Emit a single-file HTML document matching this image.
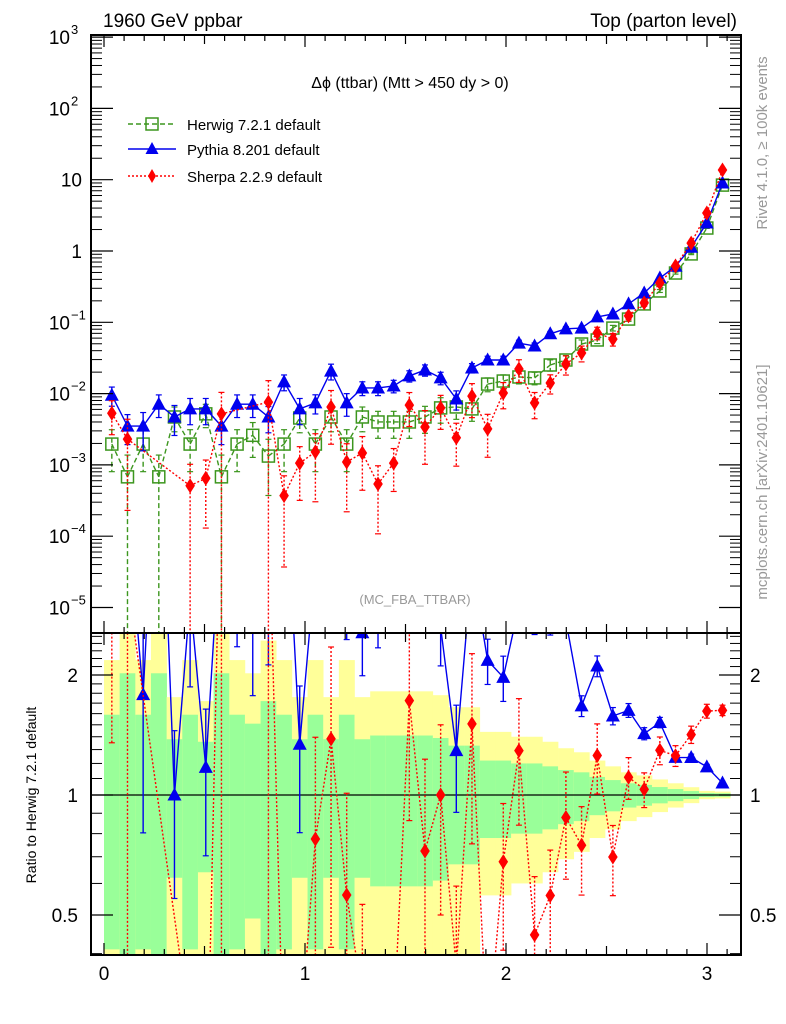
<!DOCTYPE html>
<html><head><meta charset="utf-8">
<style>
html,body{margin:0;padding:0;background:#fff;width:786px;height:1024px;overflow:hidden;}
svg{display:block;font-family:"Liberation Sans",sans-serif;}
</style></head>
<body>
<svg id="chart" width="786" height="1024" viewBox="0 0 786 1024" xmlns="http://www.w3.org/2000/svg">
<defs>
<clipPath id="mainClip"><rect x="91" y="35" width="650" height="598"/></clipPath>
<clipPath id="ratioClip"><rect x="91" y="633" width="650" height="322"/></clipPath>
</defs>
<g id="bands" clip-path="url(#ratioClip)"></g>
<g id="ratioMarks" clip-path="url(#ratioClip)"></g>
<g id="mainMarks" clip-path="url(#mainClip)"></g>
<g id="axes"></g>
<text x="103" y="27" font-size="19">1960 GeV ppbar</text>
<text x="737" y="27" font-size="19" text-anchor="end">Top (parton level)</text>
<text x="410" y="88" font-size="16" text-anchor="middle">Δϕ (ttbar) (Mtt &gt; 450 dy &gt; 0)</text>
<g>
 <g>
  <line x1="128" y1="124" x2="176" y2="124" stroke="#3c961e" stroke-width="1.5" stroke-dasharray="5,3"/>
  <rect x="146" y="118" width="12" height="12" fill="none" stroke="#3c961e" stroke-width="1.5"/>
  <text x="187" y="130" font-size="15">Herwig 7.2.1 default</text>
 </g>
 <g>
  <line x1="128" y1="149" x2="176" y2="149" stroke="#0000ee" stroke-width="1.5"/>
  <polygon points="152,142 158.5,154 145.5,154" fill="#0000ee"/>
  <text x="187" y="155" font-size="15">Pythia 8.201 default</text>
 </g>
 <g>
  <line x1="128" y1="176" x2="176" y2="176" stroke="#ff0000" stroke-width="1.5" stroke-dasharray="2,2"/>
  <polygon points="152,169 156,176 152,183 148,176" fill="#ff0000"/>
  <text x="187" y="182" font-size="15">Sherpa 2.2.9 default</text>
 </g>
</g>
<text x="415" y="604" font-size="13" fill="#999" text-anchor="middle">(MC_FBA_TTBAR)</text>
<text transform="translate(767,143) rotate(-90)" font-size="15" fill="#999" text-anchor="middle">Rivet 4.1.0, ≥ 100k events</text>
<text transform="translate(767,482) rotate(-90)" font-size="15" fill="#999" text-anchor="middle">mcplots.cern.ch [arXiv:2401.10621]</text>
<text transform="translate(36,795) rotate(-90)" font-size="14" text-anchor="middle">Ratio to Herwig 7.2.1 default</text>
</svg>
<script>
const binWidth = 0.0779;
const herwig = [1.96e-3,6.8e-4,1.96e-3,6.8e-4,4.7e-3,1.96e-3,5.2e-3,6.8e-4,1.96e-3,2.6e-3,1.33e-3,1.96e-3,4.55e-3,1.96e-3,4.7e-3,1.96e-3,4.7e-3,4.0e-3,4.0e-3,4.0e-3,4.7e-3,6.3e-3,6.5e-3,6.1e-3,1.36e-2,1.5e-2,1.71e-2,1.66e-2,2.52e-2,2.96e-2,4.96e-2,5.65e-2,8.3e-2,0.111,0.181,0.275,0.491,0.91,2.1,8.4];
const herwigErr = [.59,1.02,.59,1.02,.38,.59,.36,1.02,.59,.51,.72,.59,.38,.59,.38,.59,.38,.41,.41,.41,.41,.39,.33,.33,.22,.22,.2,.2,.18,.155,.14,.11,.09,.07,.06,.047,.035,.023,.012,.01];
const pythia = [9.5e-3,3.5e-3,3.5e-3,7.1e-3,4.7e-3,6.1e-3,6.1e-3,3.5e-3,7.1e-3,7.1e-3,4.7e-3,1.46e-2,6.1e-3,7.4e-3,2.07e-2,7.4e-3,1.2e-2,1.2e-2,1.28e-2,1.77e-2,2.14e-2,1.66e-2,8.4e-3,2.29e-2,2.96e-2,2.96e-2,5.1e-2,4.66e-2,6.9e-2,8.1e-2,8.3e-2,0.119,0.131,0.181,0.258,0.418,0.61,1.13,2.47,9.0];
const pythiaErr = [.3,.45,.55,.35,.45,.4,.4,.45,.35,.35,.4,.25,.4,.3,.25,.35,.22,.22,.2,.18,.18,.2,.3,.15,.13,.13,.1,.1,.08,.07,.06,.06,.05,.04,.035,.03,.025,.02,.015,.01];
const sherpa = [5.3e-3,2.3e-3,null,null,null,5.1e-4,6.5e-4,5.2e-3,null,null,7.6e-3,3.7e-4,1.06e-3,1.52e-3,6.5e-3,1.1e-3,1.47e-3,5.4e-4,1.06e-3,6.9e-3,3.4e-3,6.3e-3,2.4e-3,9.2e-3,3.2e-3,1.02e-2,2.21e-2,7.4e-3,1.41e-2,2.6e-2,3.71e-2,7.1e-2,5.8e-2,0.123,0.187,0.356,0.616,1.29,3.41,13.7];
const sherpaErr = [.5,.9,0,0,0,1.0,.8,1.0,0,0,1.0,.9,.7,.8,.7,.8,.7,.8,.6,.5,.7,.5,.6,.5,.6,.4,.35,.4,.3,.3,.25,.2,.2,.12,.1,.08,.06,.05,.04,.03];
const xTicks = [0,1,2,3];
const mainTickExps = [3,2,1,0,-1,-2,-3,-4,-5];
const ratioTicks = [0.5,1,2];

const NS = "http://www.w3.org/2000/svg";
const X = v => 104 + 201*v;
const YM = v => 251 - 71.3*Math.log10(v);
const YR = r => 795 - 120*Math.log2(r);
const YMAX = 1000;
function mk(parent, tag, attrs){const e=document.createElementNS(NS,tag);for(const k in attrs)e.setAttribute(k,attrs[k]);parent.appendChild(e);return e;}
const center = i => (i+0.5)*binWidth;

const bands = document.getElementById('bands');
herwigErr.forEach((e,i)=>{
  const x0=X(i*binWidth), x1=X((i+1)*binWidth);
  const yTop=YR(1+2*e), yBot=(1-2*e)>0?Math.min(YR(1-2*e),960):960;
  const y = mk(bands,'rect',{x:x0,y:yTop,width:x1-x0+0.3,height:yBot-yTop,fill:'#ffff99'});
  
  
  const gTop=YR(1+e), gBot=(1-e)>0?Math.min(YR(1-e),960):960;
  const g = mk(bands,'rect',{x:x0,y:gTop,width:x1-x0+0.3,height:gBot-gTop,fill:'#99ff99'});
  
  
});
const one = mk(document.getElementById('ratioMarks'),'line',{x1:91,x2:741,y1:YR(1),y2:YR(1),stroke:'#000','stroke-width':1.2});



function marker(g, type, x, y, color){
  let m;
  if(type==='square') m=mk(g,'rect',{x:x-6,y:y-6,width:12,height:12,fill:'none',stroke:color,'stroke-width':1.5});
  else if(type==='tri') m=mk(g,'polygon',{points:`${x},${y-7.5} ${x+7},${y+5.5} ${x-7},${y+5.5}`,fill:color});
  else m=mk(g,'polygon',{points:`${x},${y-7.5} ${x+4.8},${y} ${x},${y+7.5} ${x-4.8},${y}`,fill:color});
  return m;
}

function clipSeg(p,q){
  let [x1,y1]=p,[x2,y2]=q;
  if(y1>YMAX && y2>YMAX) return null;
  if(y1>YMAX){x1=x1+(x2-x1)*(YMAX-y1)/(y2-y1);y1=YMAX;}
  if(y2>YMAX){x2=x1+(x2-x1)*(YMAX-y1)/(y2-y1);y2=YMAX;}
  return `M${x1},${y1}L${x2},${y2}`;
}

function drawSeries(parent, vals, errs, denom, yf, color, dash, type, name){
  const g = mk(parent,'g',{});
  
  
  const pts=[];
  vals.forEach((v,i)=>{
    if(v===null) return;
    const val = denom? v/denom[i] : v;
    pts.push([X(center(i)), yf(val)]);
  });
  let d='';
  for(let j=0;j<pts.length-1;j++){const s=clipSeg(pts[j],pts[j+1]); if(s) d+=s;}
  if(d) mk(g,'path',{d:d,fill:'none',stroke:color,'stroke-width':1.4,'stroke-dasharray':dash||'none'});
  vals.forEach((v,i)=>{
    if(v===null) return;
    const val = denom? v/denom[i] : v;
    const x=X(center(i)), y=yf(val);
    if(y>YMAX) return;
    const hi=yf(val*(1+errs[i]));
    let lo=(1-errs[i])>0?yf(val*(1-errs[i])):YMAX;
    const capLo = lo<YMAX;
    lo=Math.min(lo,YMAX);
    mk(g,'line',{x1:x,x2:x,y1:hi,y2:lo,stroke:color,'stroke-width':1.4,'stroke-dasharray':dash||'none'});
    mk(g,'line',{x1:x-3,x2:x+3,y1:hi,y2:hi,stroke:color,'stroke-width':1.2});
    if(capLo) mk(g,'line',{x1:x-3,x2:x+3,y1:lo,y2:lo,stroke:color,'stroke-width':1.2});
    const m=marker(g,type,x,y,color);
    
    
  });
}
const main=document.getElementById('mainMarks');
drawSeries(main, herwig, herwigErr, null, YM, '#3c961e', '5,3', 'square', 'herwig-series');
drawSeries(main, pythia, pythiaErr, null, YM, '#0000ee', null, 'tri', 'pythia-series');
drawSeries(main, sherpa, sherpaErr, null, YM, '#ff0000', '2,2', 'diamond', 'sherpa-series');
const rm=document.getElementById('ratioMarks');
drawSeries(rm, pythia, pythiaErr, herwig, YR, '#0000ee', null, 'tri', 'pythia-ratio');
drawSeries(rm, sherpa, sherpaErr, herwig, YR, '#ff0000', '2,2', 'diamond', 'sherpa-ratio');

const ax=document.getElementById('axes');
mk(ax,'rect',{x:91,y:35,width:650,height:598,fill:'none',stroke:'#000','stroke-width':2});
mk(ax,'rect',{x:91,y:633,width:650,height:322,fill:'none',stroke:'#000','stroke-width':2});
mainTickExps.forEach(ex=>{
  const y=YM(Math.pow(10,ex));
  mk(ax,'line',{x1:91,x2:113,y1:y,y2:y,stroke:'#000','stroke-width':1.2});
  mk(ax,'line',{x1:741,x2:719,y1:y,y2:y,stroke:'#000','stroke-width':1.2});
  for(let m=2;m<=9;m++){
    const yy=YM(m*Math.pow(10,ex));
    if(yy<35||yy>633) continue;
    mk(ax,'line',{x1:91,x2:102,y1:yy,y2:yy,stroke:'#000','stroke-width':1});
    mk(ax,'line',{x1:741,x2:730,y1:yy,y2:yy,stroke:'#000','stroke-width':1});
  }
  const t=mk(ax,'text',{x:ex>=2||ex<0?70:82,y:y+7,'font-size':19,'text-anchor':'end'});
  
  
  if(ex===0) t.textContent='1';
  else if(ex===1) t.textContent='10';
  else { t.textContent='10'; const s=mk(ax,'text',{x:71,y:y-3,'font-size':13}); s.textContent=String(ex).replace('-','−');   }
});
for(let r=0.4;r<=2.55;r+=0.1){
  const y=YR(r); if(y<633||y>955) continue;
  mk(ax,'line',{x1:91,x2:102,y1:y,y2:y,stroke:'#000','stroke-width':1});
  mk(ax,'line',{x1:741,x2:730,y1:y,y2:y,stroke:'#000','stroke-width':1});
}
ratioTicks.forEach(r=>{
  const y=YR(r);
  mk(ax,'line',{x1:91,x2:113,y1:y,y2:y,stroke:'#000','stroke-width':1.2});
  mk(ax,'line',{x1:741,x2:719,y1:y,y2:y,stroke:'#000','stroke-width':1.2});
  const t=mk(ax,'text',{x:78,y:y+7,'font-size':19,'text-anchor':'end'}); t.textContent=String(r);
  
  
  const t2=mk(ax,'text',{x:750,y:y+7,'font-size':19}); t2.textContent=String(r);
  
  
});
for(let k=0;k<=31;k++){
  const v=k/10, x=X(v); if(x>741) continue;
  const len = k%10===0?12:(k%5===0?9:6);
  [[35,1],[633,-1],[633,1],[955,-1]].forEach(([y0,d])=>mk(ax,'line',{x1:x,x2:x,y1:y0,y2:y0+d*len,stroke:'#000','stroke-width':1.2}));
}
xTicks.forEach(v=>{
  const t=mk(ax,'text',{x:X(v),y:980,'font-size':19,'text-anchor':'middle'}); t.textContent=String(v);
  
  
});
</script>
</body></html>
